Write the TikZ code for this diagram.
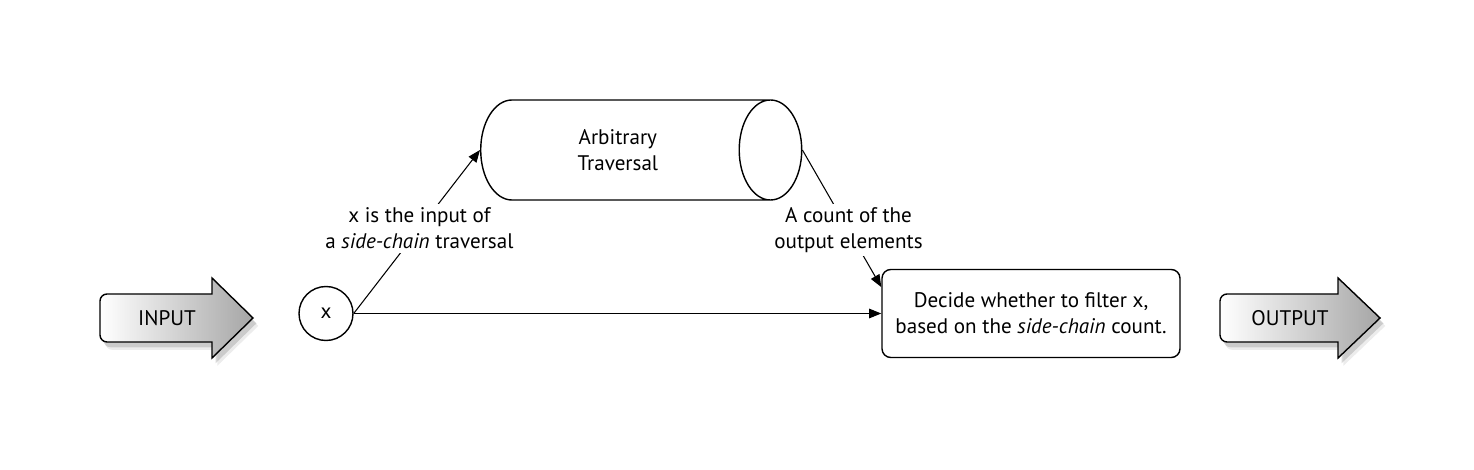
\documentclass[tikz,border=0pt]{standalone}
\usepackage{fontspec}
\setmainfont{PT Sans}
\usetikzlibrary{shapes.geometric,arrows.meta,shadows,positioning}

\begin{document}
\begin{tikzpicture}[
            every node/.style={
            font=\fontsize{12}{14.8}\selectfont, align=center},
            >={Triangle[length=7pt,width=5.5pt]}
        ]
        \tikzstyle {var_circ} = [circle, draw, thick, minimum size=1.08cm, inner sep=0pt]
        \tikzstyle {trav_cyl} = [cylinder, draw, thick, aspect=1.18, minimum height=6.42cm, minimum width=2cm]
        \tikzstyle {dec_box} = [rectangle, draw, thick, rounded corners=5pt, minimum width=5.96cm, minimum height=1.76cm]
        \tikzstyle {label_box} = [fill=white, inner sep=2pt]
        \tikzstyle {big_arrow} = [draw, thick, left color=white, right color=black!35,
            drop shadow={shadow xshift=3pt, shadow yshift=-4.5pt, opacity=0.15},
            drop shadow={shadow xshift=2pt, shadow yshift=-3pt, opacity=0.3}]
        \tikzstyle {link} = [semithick]

        \useasboundingbox (0,0) rectangle (29.48,9.38);

        % input and output arrows
        \path[big_arrow] (4.24,2.54) [rounded corners=4pt] -- (2.0,2.54) -- (2.0,3.50)
            [sharp corners] -- (4.24,3.50) -- (4.24,3.82) -- (5.06,3.02) -- (4.24,2.22) -- cycle;
        \path[big_arrow] (26.76,2.54) [rounded corners=4pt] -- (24.4,2.54) -- (24.4,3.50)
            [sharp corners] -- (26.76,3.50) -- (26.76,3.82) -- (27.6,3.02) -- (26.76,2.22) -- cycle;
        \node (inp) at (3.34,3.02) {INPUT};
        \node (outp) at (25.8,3.02) {OUTPUT};

        \node [var_circ] (x) at (6.52,3.11) {x};
        \node [trav_cyl, anchor=west] (trav) at (9.6,6.38) {Arbitrary\\Traversal};
        \node [dec_box] (dec) at (20.62,3.11) {Decide whether to filter x,\\based on the \emph{side-chain} count.};

        \draw[link, ->] (x.east) -- node[label_box, pos=0.52] (lbl_in) {x is the input of\\a \emph{side-chain} traversal} (trav.west);
        \draw[link, ->] (trav.east) -- node[label_box, pos=0.585] (lbl_out) {A count of the\\output elements} (dec.170);
        \draw[link, ->] (x) -- (dec);

        \end{tikzpicture}
\end{document}
